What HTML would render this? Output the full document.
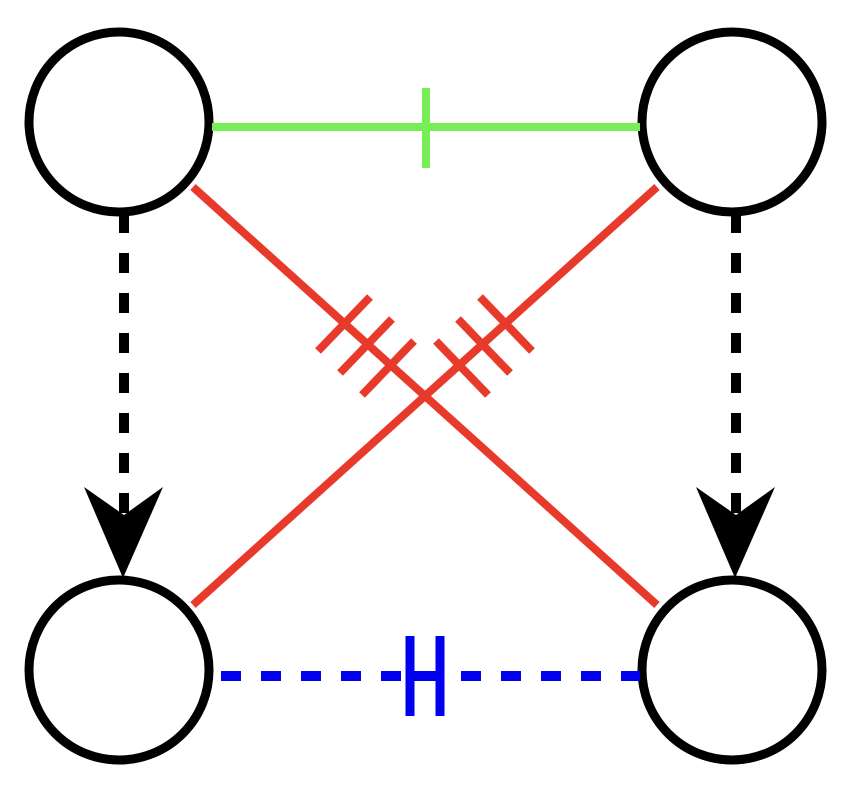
<!DOCTYPE html>
<html><head><style>html,body{margin:0;padding:0;background:#fff}svg{display:block}</style></head>
<body>
<svg width="854" height="794" viewBox="0 0 854 794" xmlns="http://www.w3.org/2000/svg">
<g fill="none" stroke="#000" stroke-width="9">
<circle cx="119" cy="122" r="90"/>
<circle cx="732" cy="122" r="90"/>
<circle cx="119" cy="670" r="90"/>
<circle cx="732" cy="670" r="90"/>
</g>
<g stroke="#77ee55" stroke-width="8">
<line x1="212" y1="127" x2="640" y2="127"/>
<line x1="426" y1="88" x2="426" y2="168"/>
</g>
<g stroke="#e83a2a" stroke-width="8">
<line x1="193" y1="187" x2="657" y2="605"/>
<line x1="657" y1="187" x2="193" y2="605"/>
<line x1="318" y1="351" x2="370" y2="297"/>
<line x1="340" y1="373" x2="392" y2="319"/>
<line x1="362" y1="395" x2="414" y2="341"/>
<line x1="436" y1="341" x2="488" y2="395"/>
<line x1="458" y1="319" x2="510" y2="373"/>
<line x1="480" y1="297" x2="532" y2="351"/>
</g>
<g stroke="#0000ee" stroke-width="10">
<line x1="221" y1="676" x2="640" y2="676" stroke-dasharray="20 20"/>
<line x1="410" y1="636" x2="410" y2="716" stroke-width="9"/>
<line x1="440" y1="636" x2="440" y2="716" stroke-width="9"/>
<line x1="410" y1="676" x2="440" y2="676"/>
</g>
<g stroke="#000" stroke-width="10" stroke-dasharray="20 20">
<line x1="124" y1="213" x2="124" y2="515"/>
<line x1="736" y1="213" x2="736" y2="515"/>
</g>
<polygon points="84,487 124,515 163,487 123,578" fill="#000"/>
<polygon points="696,487 736,515 775,487 735,578" fill="#000"/>
</svg>
</body></html>
